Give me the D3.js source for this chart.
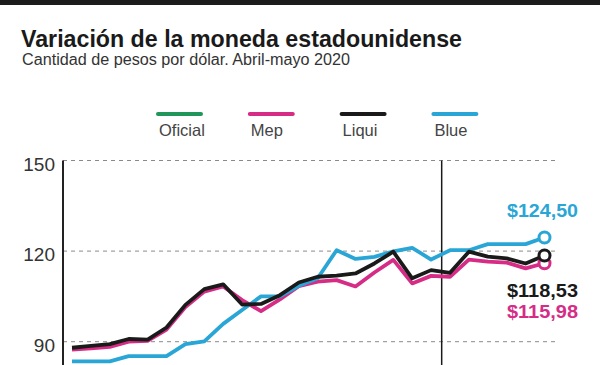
<!DOCTYPE html>
<html>
<head>
<meta charset="utf-8">
<script src="https://cdn.jsdelivr.net/npm/d3@7"></script>
<style>
  body { margin: 0; background: #fff; }
  svg { display: block; font-family: "Liberation Sans", Arial, sans-serif; }
</style>
</head>
<body>
<div id="chart"></div>
<script>
// values (pesos per dollar, business days April-May 2020)
var days = d3.range(26);
var oficial = [64.5, 64.6, 64.7, 64.8, 64.9, 65.0, 65.1, 65.2, 65.3, 65.4, 65.5, 65.6, 65.7, 65.8, 65.9, 66.0, 66.1, 66.2, 66.3, 66.4, 66.6, 66.7, 66.8, 66.9, 67.0, 67.2];
var mep = [87.4, 87.8, 88.3, 90.0, 90.3, 94.0, 101.5, 106.6, 108.3, 103.8, 100.1, 104.0, 108.4, 109.9, 110.4, 108.3, 112.9, 117.1, 109.3, 111.8, 111.5, 117.2, 116.5, 116.2, 114.3, 115.98];
var liqui = [88.0, 88.6, 89.2, 90.9, 90.7, 94.7, 102.2, 107.4, 109.0, 102.3, 102.5, 105.4, 109.6, 111.5, 111.9, 112.6, 115.9, 119.8, 111.0, 113.7, 112.8, 119.8, 118.2, 117.6, 115.9, 118.53];
var blue = [83.5, 83.5, 83.5, 85.2, 85.2, 85.2, 89.2, 90.1, 95.9, 100.5, 105.0, 105.0, 108.5, 111.0, 120.3, 117.4, 118.1, 119.9, 121.1, 117.2, 120.3, 120.3, 122.3, 122.3, 122.3, 124.5];
var yTicks = [90, 120, 150];
var mayStart = 19.56; // separator between April and May
var seriesNames = ["Oficial", "Mep", "Liqui", "Blue"];
var lastLabels = ["", "$115,98", "$118,53", "$124,50"];

var colors = ["#21965a", "#d62c86", "#1a1a1a", "#2aa6d6"];
var series = [oficial, mep, liqui, blue];

var width = 600, height = 365;

var svg = d3.select("#chart")
  .append("svg")
    .attr("width", width)
    .attr("height", height);

// top bar
svg.append("rect")
  .attr("x", 0).attr("y", 0)
  .attr("width", width).attr("height", 5)
  .attr("fill", "#1c1c1c");

// title + subtitle
svg.append("text")
  .attr("x", 21).attr("y", 46.5)
  .attr("font-size", 24.5).attr("font-weight", "bold")
  .attr("fill", "#1a1a1a")
  .attr("textLength", 441).attr("lengthAdjust", "spacingAndGlyphs")
  .text("Variación de la moneda estadounidense");

svg.append("text")
  .attr("x", 22).attr("y", 65)
  .attr("font-size", 16)
  .attr("fill", "#333")
  .attr("textLength", 328).attr("lengthAdjust", "spacingAndGlyphs")
  .text("Cantidad de pesos por dólar. Abril-mayo 2020");

// legend
var legend = svg.selectAll(".leg")
  .data(seriesNames)
  .enter()
  .append("g")
    .attr("class", "leg")
    .attr("transform", function(d, i) { return "translate(" + (158 + i * 91.8) + ",0)"; });

legend.append("line")
  .attr("x1", 0).attr("x2", 43)
  .attr("y1", 114).attr("y2", 114)
  .attr("stroke", function(d, i) { return colors[i]; })
  .attr("stroke-width", 4)
  .attr("stroke-linecap", "round");

legend.append("text")
  .attr("x", 1).attr("y", 136)
  .attr("font-size", 16.5)
  .attr("fill", "#444")
  .text(function(d) { return d; });

// scales
var x = d3.scaleLinear()
  .domain([0, 25])
  .range([72, 544.5]);

var y = d3.scaleLinear()
  .domain([90, 150])
  .range([341.7, 160.5]);

// grid
svg.append("g")
  .selectAll("line")
  .data(yTicks)
  .enter()
  .append("line")
    .attr("x1", 63).attr("x2", 557)
    .attr("y1", function(d) { return y(d); })
    .attr("y2", function(d) { return y(d); })
    .attr("stroke", "#8a8a8a")
    .attr("stroke-width", 1)
    .attr("stroke-dasharray", "4,4");

// y axis
var yAxis = svg.append("g")
  .attr("transform", "translate(63,0)")
  .call(d3.axisLeft(y).tickValues(yTicks).tickSize(0).tickPadding(8));
yAxis.select(".domain").remove();
yAxis.selectAll("text")
  .attr("font-family", "Liberation Sans, Arial, sans-serif")
  .attr("font-size", 19)
  .attr("fill", "#333")
  .attr("dy", "0.5em");

svg.append("line")
  .attr("x1", 63).attr("x2", 63)
  .attr("y1", y(150)).attr("y2", height + 10)
  .attr("stroke", "#222")
  .attr("stroke-width", 2);

// month separator
svg.append("line")
  .attr("x1", x(mayStart)).attr("x2", x(mayStart))
  .attr("y1", y(150)).attr("y2", height + 10)
  .attr("stroke", "#1a1a1a")
  .attr("stroke-width", 1.5);

// lines
var line = d3.line()
  .x(function(d, i) { return x(days[i]); })
  .y(function(d) { return y(d); });

svg.append("g")
  .selectAll("path")
  .data([0, 1, 3, 2])
  .enter()
  .append("path")
    .attr("d", function(k) { return line(series[k]); })
    .attr("fill", "none")
    .attr("stroke", function(k) { return colors[k]; })
    .attr("stroke-width", 3.8)
    .attr("stroke-linejoin", "round");

// end markers
var last = days.length - 1;
svg.append("g")
  .selectAll("circle")
  .data([1, 2, 3])
  .enter()
  .append("circle")
    .attr("cx", x(days[last]))
    .attr("cy", function(k) { return y(series[k][last]); })
    .attr("r", 5.5)
    .attr("fill", "#fff")
    .attr("stroke", function(k) { return colors[k]; })
    .attr("stroke-width", 3);

// end labels
var labelY = {1: 318, 2: 297, 3: 217};
svg.append("g")
  .selectAll("text")
  .data([1, 2, 3])
  .enter()
  .append("text")
    .attr("x", 507)
    .attr("y", function(k) { return labelY[k]; })
    .attr("font-size", 18)
    .attr("font-weight", "bold")
    .attr("fill", function(k) { return colors[k]; })
    .attr("textLength", 71).attr("lengthAdjust", "spacingAndGlyphs")
    .text(function(k) { return lastLabels[k]; });
</script>
</body>
</html>
